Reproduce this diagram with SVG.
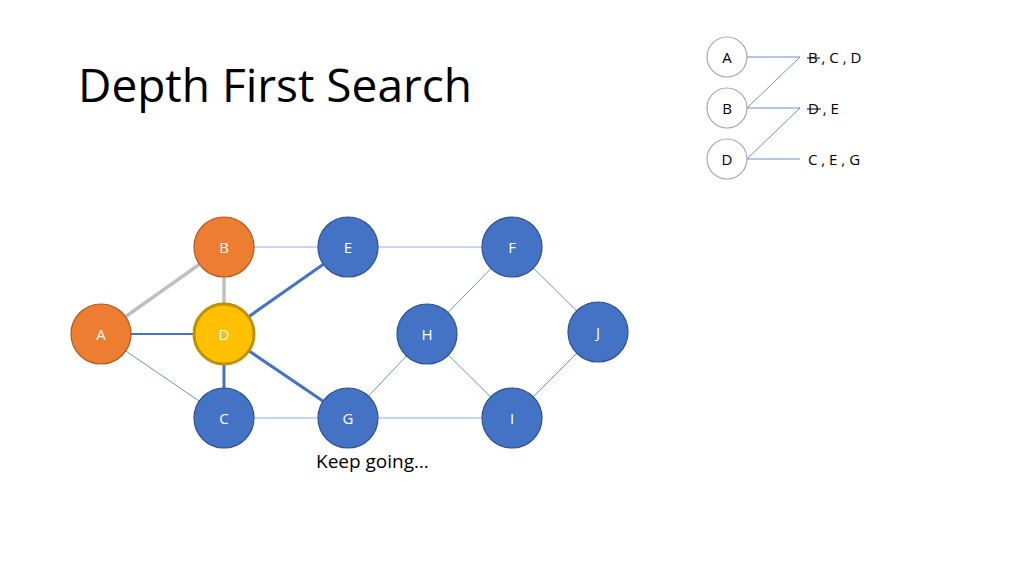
<svg xmlns="http://www.w3.org/2000/svg" width="1024" height="575" viewBox="0 0 1024 575">
<style>
text{font-family:"Open Sans","Noto Sans",sans-serif}
.n text{fill:#fff;font-size:15px;text-anchor:middle;dominant-baseline:central}
.b{fill:#4472c4;stroke:#2f528f;stroke-width:1.2}
.o{fill:#ed7d31;stroke:#ae5a21;stroke-width:1.2}
.t{fill:#fff;stroke:#a6a6a6;stroke-width:1.2}
.thin{stroke:#8faadc;stroke-width:1}
.tl text{fill:#000;font-size:15px}
</style>
<rect width="1024" height="575" fill="#fff"/>
<text x="78" y="102" font-size="46" fill="#000">Depth First Search</text>
<g id="connectors" fill="none">
<line x1="101" y1="334" x2="224" y2="247" stroke="#bfbfbf" stroke-width="3.5"/>
<line x1="224" y1="247" x2="224" y2="334" stroke="#bfbfbf" stroke-width="3.5"/>
<line x1="101" y1="334" x2="224" y2="334" stroke="#4472c4" stroke-width="1.8"/>
<line x1="101" y1="334" x2="224" y2="418" stroke="#4472c4" stroke-width="0.8"/>
<line x1="224" y1="334" x2="224" y2="418" stroke="#4472c4" stroke-width="3"/>
<line x1="224" y1="334" x2="348" y2="247" stroke="#4472c4" stroke-width="3"/>
<line x1="224" y1="334" x2="348" y2="418" stroke="#4472c4" stroke-width="3"/>
<line x1="224" y1="247" x2="348" y2="247" class="thin"/>
<line x1="348" y1="247" x2="512" y2="247" class="thin"/>
<line x1="224" y1="418" x2="348" y2="418" class="thin"/>
<line x1="348" y1="418" x2="512" y2="418" class="thin"/>
<line x1="348" y1="418" x2="427" y2="334" stroke="#4472c4" stroke-width="0.8"/>
<line x1="427" y1="334" x2="512" y2="247" stroke="#4472c4" stroke-width="0.8"/>
<line x1="427" y1="334" x2="512" y2="418" stroke="#4472c4" stroke-width="0.8"/>
<line x1="512" y1="247" x2="598" y2="332" stroke="#4472c4" stroke-width="0.8"/>
<line x1="512" y1="418" x2="598" y2="332" stroke="#4472c4" stroke-width="0.8"/>
<polyline points="747,57 800,57 747,108 800,108 747,159 800,159" stroke="#4472c4" stroke-width="0.8"/>
</g>
<g class="n">
<g id="A"><circle cx="101" cy="334" r="30" class="o"/><text x="101" y="334">A</text></g>
<g id="B"><circle cx="224" cy="247" r="30" class="o"/><text x="224" y="247">B</text></g>
<g id="D"><circle cx="224" cy="334" r="30" fill="#ffc000" stroke="#bf9000" stroke-width="3"/><text x="224" y="334">D</text></g>
<g id="C"><circle cx="224" cy="418" r="30" class="b"/><text x="224" y="418">C</text></g>
<g id="E"><circle cx="348" cy="247" r="30" class="b"/><text x="348" y="247">E</text></g>
<g id="G"><circle cx="348" cy="418" r="30" class="b"/><text x="348" y="418">G</text></g>
<g id="H"><circle cx="427" cy="334" r="30" class="b"/><text x="427" y="334">H</text></g>
<g id="F"><circle cx="512" cy="247" r="30" class="b"/><text x="512" y="247">F</text></g>
<g id="I"><circle cx="512" cy="418" r="30" class="b"/><text x="512" y="418">I</text></g>
<g id="J"><circle cx="598" cy="332" r="30" class="b"/><text x="598" y="332">J</text></g>
</g>
<text x="316" y="468" font-size="19" fill="#000">Keep going…</text>
<g class="n">
<g id="LA"><circle cx="727" cy="57" r="20" class="t"/><text x="727" y="57" style="fill:#000">A</text></g>
<g id="LB"><circle cx="727" cy="108" r="20" class="t"/><text x="727" y="108" style="fill:#000">B</text></g>
<g id="LD"><circle cx="727" cy="159" r="20" class="t"/><text x="727" y="159" style="fill:#000">D</text></g>
</g>
<g class="tl">
<text x="808" y="63">B ,  C ,  D</text>
<text x="808" y="114">D ,  E</text>
<text x="808" y="165">C ,  E ,  G</text>
<line x1="807" y1="58" x2="820" y2="58" stroke="#000" stroke-width="1"/>
<line x1="807" y1="109" x2="821" y2="109" stroke="#000" stroke-width="1"/>
</g>
</svg>
